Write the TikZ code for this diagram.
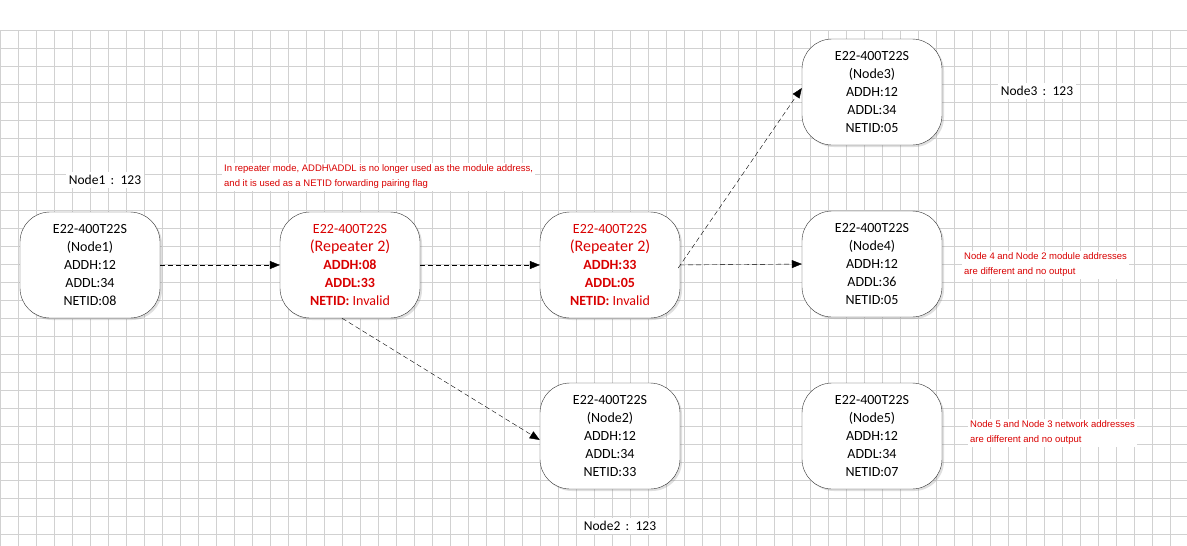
\documentclass[tikz,border=0pt]{standalone}
\usepackage{fontspec}
\setmainfont{Carlito}
\newfontfamily\lsans{Liberation Sans}
\usetikzlibrary{arrows.meta,shadows}
\begin{document}
\begin{tikzpicture}[x=1pt,y=-1pt,
 box/.style={draw=black!80,fill=white,rounded corners=30pt,minimum width=140pt,minimum height=106pt,align=center,font=\fontsize{14}{18}\selectfont,drop shadow={shadow xshift=2pt,shadow yshift=-2pt,opacity=0.25}},
 red/.style={text=red!85!black},
 note/.style={red,font=\lsans\fontsize{9.5}{15}\selectfont,align=left,fill=white,inner sep=2pt,anchor=west},
 lab/.style={font=\fontsize{13.5}{15}\selectfont,fill=white,inner sep=3pt},
 arr/.style={draw,dashed,dash pattern=on 5pt off 3pt,-{Triangle[length=10pt,width=8pt]}}]
\useasboundingbox (0,0) rectangle (1187,546);
\fill[white] (0,0) rectangle (1187,546);
\foreach \x in {0,18,...,1187} \draw[black!18,line width=0.6pt] (\x,30) -- (\x,546);
\foreach \y in {30,48,...,546} \draw[black!18,line width=0.6pt] (0,\y) -- (1187,\y);
\node[box] (n1) at (90,265) {E22-400T22S\\(Node1)\\ADDH:12\\ADDL:34\\NETID:08};
\node[box,text=red!85!black] (r1) at (350,265) {E22-400T22S\\{\fontsize{16}{18}\selectfont (Repeater 2)}\\\textbf{ADDH:08}\\\textbf{ADDL:33}\\\textbf{NETID:} Invalid};
\node[box,text=red!85!black] (r2) at (610,265) {E22-400T22S\\{\fontsize{16}{18}\selectfont (Repeater 2)}\\\textbf{ADDH:33}\\\textbf{ADDL:05}\\\textbf{NETID:} Invalid};
\node[box] (n3) at (872,92) {E22-400T22S\\(Node3)\\ADDH:12\\ADDL:34\\NETID:05};
\node[box] (n4) at (872,264) {E22-400T22S\\(Node4)\\ADDH:12\\ADDL:36\\NETID:05};
\node[box] (n2) at (610,436) {E22-400T22S\\(Node2)\\ADDH:12\\ADDL:34\\NETID:33};
\node[box] (n5) at (872,436) {E22-400T22S\\(Node5)\\ADDH:12\\ADDL:34\\NETID:07};
\draw[arr] (n1.east) -- (r1.west);
\draw[arr] (r1.east) -- (r2.west);
\draw[arr] (r2.east) -- (n4.west);
\draw[arr] ([xshift=-2pt,yshift=-3pt]r2.east) -- ([yshift=4pt]n3.west);
\draw[arr] ([xshift=-8pt]r1.south) -- ([yshift=-4pt]n2.west);
\node[lab] (l1) at (105,180) {Node1 \,:\, 123};
\node[lab] (l3) at (1037,91) {Node3 \,:\, 123};
\node[lab] (l2) at (620,526) {Node2 \,:\, 123};
\node[note] (t1) at (222,177) {In repeater mode, ADDH\textbackslash ADDL is no longer used as the module address,\\and it is used as a NETID forwarding pairing flag};
\node[note] (t2) at (962,265) {Node 4 and Node 2 module addresses\\are different and no output};
\node[note] (t3) at (968,433) {Node 5 and Node 3 network addresses\\are different and no output};
\end{tikzpicture}
\end{document}
